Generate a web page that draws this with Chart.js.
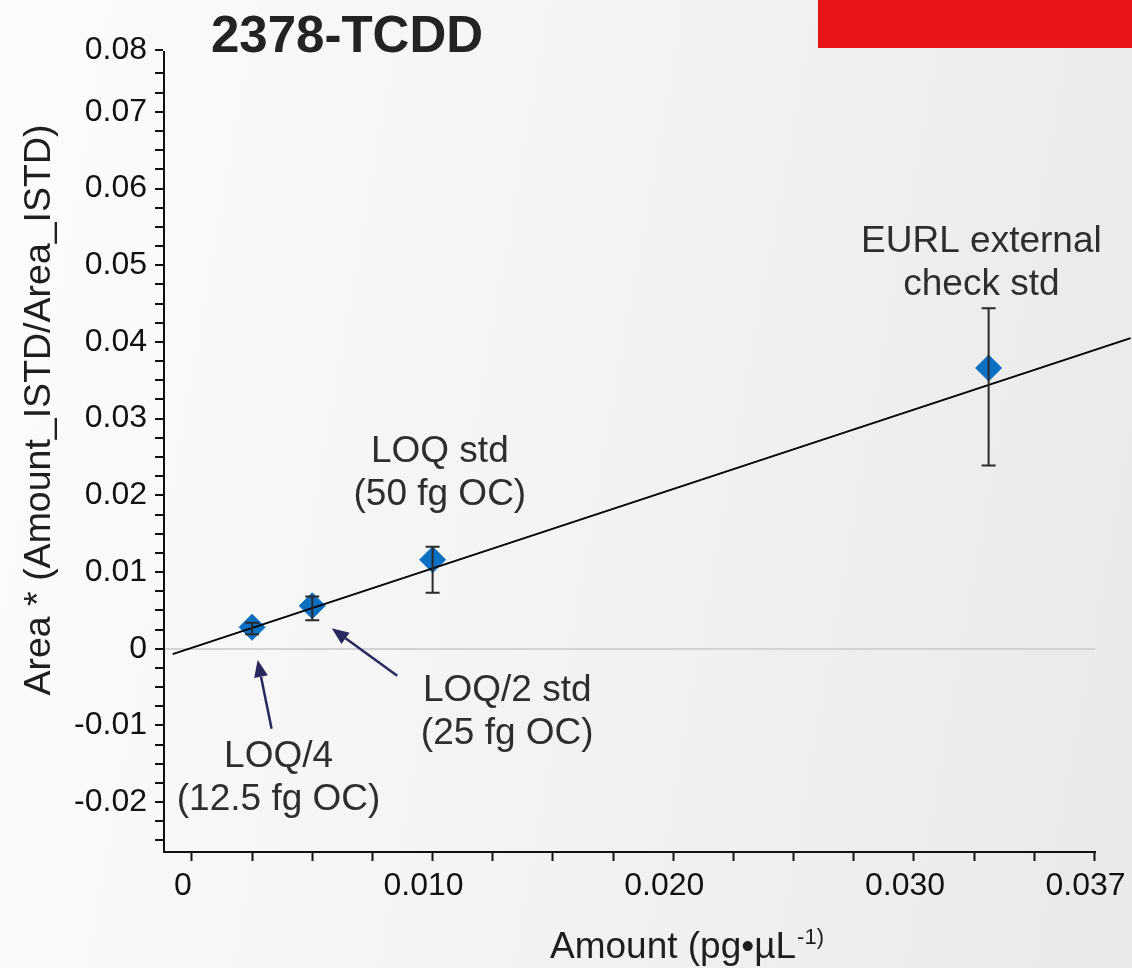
<!DOCTYPE html>
<html>
<head>
<meta charset="utf-8">
<script src="https://cdn.jsdelivr.net/npm/chart.js@4.4.1/dist/chart.umd.min.js"></script>
<style>
  html, body { margin: 0; padding: 0; }
  body {
    width: 1132px; height: 968px; overflow: hidden;
    background: linear-gradient(100deg, #fcfcfc 0%, #f3f4f4 45%, #e8e9e9 100%);
  }
  #wrap { position: relative; width: 1132px; height: 968px; }
</style>
</head>
<body>
<div id="wrap"><canvas id="calChart" width="1132" height="968"></canvas></div>
<script>
// calibration points (amount in pg/uL, response ratio)
const amounts   = [0.0025, 0.0050, 0.0100, 0.0331];
const responses = [0.0028, 0.0056, 0.0116, 0.0366];
const errLow    = [0.0019, 0.0037, 0.0073, 0.0239];
const errHigh   = [0.0034, 0.0068, 0.0133, 0.0444];

// regression line end points
const fitX = [-0.0008, 0.0390];
const fitY = [-0.0007, 0.0405];

// axis ticks
const xMajor = [0, 0.010, 0.020, 0.030, 0.0375];
const xLabels = ['0', '0.010', '0.020', '0.030', '0.037'];
const yMajor = [-0.02, -0.01, 0, 0.01, 0.02, 0.03, 0.04, 0.05, 0.06, 0.07, 0.078];
const yLabels = ['-0.02', '-0.01', '0', '0.01', '0.02', '0.03', '0.04', '0.05', '0.06', '0.07', '0.08'];

const notes = [
    { lines: ['EURL external', 'check std'], x: 0.0328, y: 0.0517 },
    { lines: ['LOQ std', '(50 fg OC)'], x: 0.0103, y: 0.0243 },
    { lines: ['LOQ/2 std', '(25 fg OC)'], x: 0.0131, y: -0.0068 },
    { lines: ['LOQ/4', '(12.5 fg OC)'], x: 0.0036, y: -0.0154 }
];
const arrows = [
    { from: [0.00331, -0.01044], to: [0.00273, -0.00147] },
    { from: [0.00853, -0.00352], to: [0.00581, 0.00266] }
];

const FONT = "'Liberation Sans', Arial, sans-serif";

// minor ticks every 0.0025
const xTickVals = [];
for (let i = 0; i <= 15; i++) xTickVals.push(Math.round(i * 25) / 10000);
const yTickVals = [];
for (let i = -10; i <= 30; i++) yTickVals.push(Math.round(i * 25) / 10000);
yTickVals.push(0.078);

function labelFor(v, majors, labels) {
    const i = majors.findIndex(m => Math.abs(m - v) < 1e-7);
    return i >= 0 ? labels[i] : '';
}

const decorPlugin = {
    id: 'decor',
    beforeDraw(chart) {
        const ctx = chart.ctx;
        ctx.save();
        ctx.fillStyle = '#e8141a';
        ctx.fillRect(818, 0, 314, 48);
        ctx.restore();
    },
    afterDatasetsDraw(chart) {
        const ctx = chart.ctx;
        const xs = chart.scales.x, ys = chart.scales.y;
        ctx.save();
        ctx.strokeStyle = '#2a2a2a';
        ctx.lineWidth = 2;
        amounts.forEach((a, i) => {
            const px = xs.getPixelForValue(a);
            const top = ys.getPixelForValue(errHigh[i]);
            const bot = ys.getPixelForValue(errLow[i]);
            ctx.beginPath();
            ctx.moveTo(px, top); ctx.lineTo(px, bot);
            ctx.moveTo(px - 7, top); ctx.lineTo(px + 7, top);
            ctx.moveTo(px - 7, bot); ctx.lineTo(px + 7, bot);
            ctx.stroke();
        });
        ctx.restore();
    },
    afterDraw(chart) {
        const ctx = chart.ctx;
        const xs = chart.scales.x, ys = chart.scales.y;
        ctx.save();

        // title
        ctx.fillStyle = '#232323';
        ctx.font = 'bold 51px ' + FONT;
        ctx.textAlign = 'left';
        ctx.textBaseline = 'alphabetic';
        ctx.fillText('2378-TCDD', 211, 52);

        // annotations
        ctx.fillStyle = '#2e2e2e';
        ctx.font = '37px ' + FONT;
        ctx.textAlign = 'center';
        notes.forEach(n => {
            const px = xs.getPixelForValue(n.x);
            const py = ys.getPixelForValue(n.y);
            n.lines.forEach((t, k) => ctx.fillText(t, px, py + k * 43));
        });

        // arrows
        ctx.strokeStyle = '#28285f';
        ctx.fillStyle = '#28285f';
        ctx.lineWidth = 2.5;
        arrows.forEach(a => {
            const x1 = xs.getPixelForValue(a.from[0]), y1 = ys.getPixelForValue(a.from[1]);
            const x2 = xs.getPixelForValue(a.to[0]), y2 = ys.getPixelForValue(a.to[1]);
            const ang = Math.atan2(y2 - y1, x2 - x1);
            const hl = 17, hw = 7;
            const bx = x2 - hl * Math.cos(ang), by = y2 - hl * Math.sin(ang);
            ctx.beginPath();
            ctx.moveTo(x1, y1); ctx.lineTo(bx, by);
            ctx.stroke();
            ctx.beginPath();
            ctx.moveTo(x2, y2);
            ctx.lineTo(bx + hw * Math.sin(ang), by - hw * Math.cos(ang));
            ctx.lineTo(bx - hw * Math.sin(ang), by + hw * Math.cos(ang));
            ctx.closePath();
            ctx.fill();
        });

        // axis titles
        ctx.fillStyle = '#1e1e1e';
        ctx.font = '37px ' + FONT;
        ctx.textAlign = 'left';
        const main = 'Amount (pg\u2022\u00b5L';
        ctx.fillText(main, 550, 958);
        const w = ctx.measureText(main).width;
        ctx.font = '22px ' + FONT;
        ctx.fillText('-1)', 550 + w + 1, 944);

        ctx.font = '37.5px ' + FONT;
        ctx.translate(50, 410);
        ctx.rotate(-Math.PI / 2);
        ctx.textAlign = 'center';
        ctx.fillText('Area * (Amount_ISTD/Area_ISTD)', 0, 0);
        ctx.restore();
    }
};

new Chart(document.getElementById('calChart'), {
    type: 'scatter',
    data: {
        datasets: [{
            data: fitX.map((x, i) => ({ x: x, y: fitY[i] })),
            showLine: true,
            borderColor: '#000000',
            borderWidth: 2,
            pointRadius: 0,
            fill: false,
            clip: false
        }, {
            data: amounts.map((x, i) => ({ x: x, y: responses[i] })),
            pointStyle: 'rectRot',
            pointRadius: 13,
            backgroundColor: '#0b6fc2',
            borderColor: '#0b6fc2',
            borderWidth: 1
        }]
    },
    options: {
        responsive: false,
        animation: false,
        events: [],
        layout: { padding: { top: 52, right: 37, bottom: 0, left: 0 } },
        plugins: {
            legend: { display: false },
            tooltip: { enabled: false }
        },
        scales: {
            x: {
                type: 'linear',
                min: -0.00116,
                max: 0.03752,
                afterBuildTicks: s => { s.ticks = xTickVals.map(v => ({ value: v })); },
                afterFit: s => { s.height = 116; s.paddingLeft = 0; s.paddingRight = 0; },
                ticks: {
                    autoSkip: false,
                    maxRotation: 0,
                    labelOffset: -9,
                    color: '#111111',
                    padding: 6,
                    font: { family: FONT, size: 32 },
                    callback: v => labelFor(v, xMajor, xLabels)
                },
                grid: { drawOnChartArea: false, tickLength: 9, tickColor: '#111111', tickWidth: 2 },
                border: { color: '#111111', width: 2 }
            },
            y: {
                type: 'linear',
                min: -0.0265,
                max: 0.0778,
                afterBuildTicks: s => { s.ticks = yTickVals.map(v => ({ value: v })); },
                afterFit: s => { s.width = 164; s.paddingTop = 0; s.paddingBottom = 0; },
                ticks: {
                    autoSkip: false,
                    color: '#111111',
                    padding: 8,
                    font: { family: FONT, size: 32 },
                    callback: v => labelFor(v, yMajor, yLabels)
                },
                grid: {
                    color: c => (c.tick && Math.abs(c.tick.value) < 1e-9) ? '#d2d3d3' : 'rgba(0,0,0,0)',
                    lineWidth: 2,
                    tickLength: 9,
                    tickColor: '#111111',
                    tickWidth: 2
                },
                border: { color: '#111111', width: 2 }
            }
        }
    },
    plugins: [decorPlugin]
});
</script>
</body>
</html>
